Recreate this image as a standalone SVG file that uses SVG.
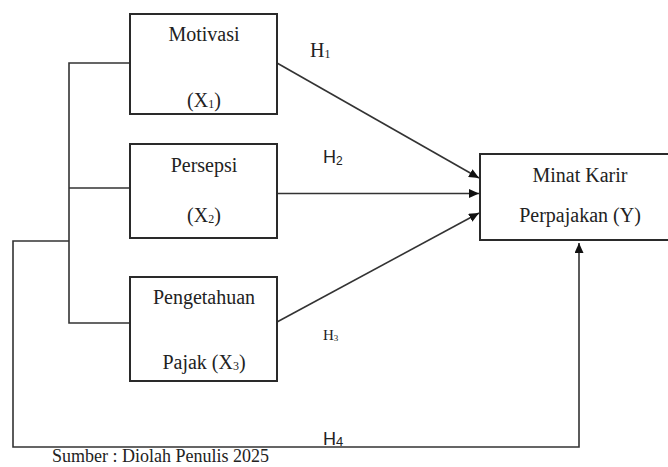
<svg xmlns="http://www.w3.org/2000/svg" width="668" height="467" viewBox="0 0 668 467">
<style>
.box{fill:#fff;stroke:#2a2a2a;stroke-width:2}
.ln{fill:none;stroke:#333;stroke-width:1.6}
.t{font-family:"Liberation Serif","Times New Roman",serif;font-size:20px;fill:#222;text-anchor:middle}
.sub{font-size:12px}
.hs{font-family:"Liberation Serif","Times New Roman",serif;fill:#222}
.hn{font-family:"Liberation Sans",Arial,sans-serif;fill:#222}
</style>
<defs>
<marker id="ah" markerUnits="userSpaceOnUse" markerWidth="11" markerHeight="9" refX="10" refY="4.5" orient="auto">
<path d="M0,0 L10,4.5 L0,9 z" fill="#111"/>
</marker>
</defs>
<rect width="668" height="467" fill="#fff"/>
<g id="connectors">
<path class="ln" d="M130,63 H69 V323 H130 M69,188 H130"/>
<path class="ln" d="M69,241 H13 V447 H579 V243" marker-end="url(#ah)"/>
<path class="ln" d="M277,63 L479,178" marker-end="url(#ah)"/>
<path class="ln" d="M277,193.5 H479" marker-end="url(#ah)"/>
<path class="ln" d="M277,322 L479,213" marker-end="url(#ah)"/>
</g>
<g id="motivasi">
<rect class="box" x="130" y="14" width="147" height="100"/>
<text class="t" x="204" y="41">Motivasi</text>
<text class="t" x="204" y="107">(X<tspan class="sub" dy="1">1</tspan><tspan dy="-1">)</tspan></text>
</g>
<g id="persepsi">
<rect class="box" x="130" y="144" width="147" height="94"/>
<text class="t" x="204" y="172">Persepsi</text>
<text class="t" x="204" y="222">(X<tspan class="sub" dy="1">2</tspan><tspan dy="-1">)</tspan></text>
</g>
<g id="pengetahuan">
<rect class="box" x="130" y="277" width="147" height="104"/>
<text class="t" x="204" y="304">Pengetahuan</text>
<text class="t" x="204" y="369">Pajak (X<tspan class="sub" dy="1">3</tspan><tspan dy="-1">)</tspan></text>
</g>
<g id="minat">
<rect class="box" x="480" y="154" width="200" height="86"/>
<text class="t" x="580" y="182">Minat Karir</text>
<text class="t" x="580" y="222">Perpajakan (Y)</text>
</g>
<g id="labels">
<text class="hs" x="310" y="57" font-size="20">H<tspan font-size="12" dy="1">1</tspan></text>
<text class="hn" x="323" y="163" font-size="18">H<tspan font-size="12" dy="2">2</tspan></text>
<text class="hs" x="323" y="340" font-size="15">H<tspan font-size="9" dy="1">3</tspan></text>
<text class="hn" x="323" y="445" font-size="18">H<tspan font-size="13" dy="1">4</tspan></text>
<text class="hs" x="52" y="462" font-size="18">Sumber : Diolah Penulis 2025</text>
</g>
</svg>
